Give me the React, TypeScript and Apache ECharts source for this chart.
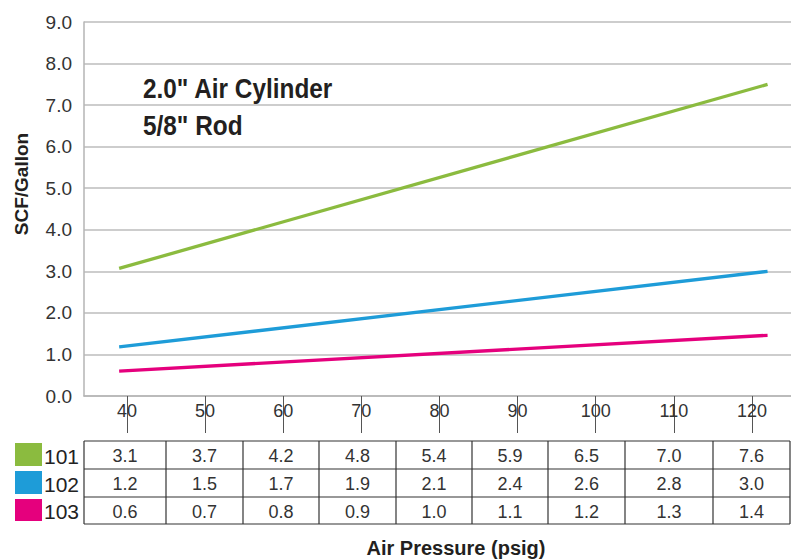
import React, { useEffect, useRef } from "react";
import * as echarts from "echarts";

// Table values (printed in the data table)
const pressures = [40, 50, 60, 70, 80, 90, 100, 110, 120];
const s101 = [3.1, 3.7, 4.2, 4.8, 5.4, 5.9, 6.5, 7.0, 7.6];
const s102 = [1.2, 1.5, 1.7, 1.9, 2.1, 2.4, 2.6, 2.8, 3.0];
const s103 = [0.6, 0.7, 0.8, 0.9, 1.0, 1.1, 1.2, 1.3, 1.4];

// Plotted straight lines (start and end points)
const lineX = [39, 122];
const line101 = [3.07, 7.5];
const line102 = [1.18, 3.0];
const line103 = [0.6, 1.46];

const seriesNames = ["101", "102", "103"];
const seriesColors = ["#8bbb3f", "#1e9cd8", "#e5007d"];

const FONT = "'Liberation Sans', Arial, sans-serif";

// layout constants for the data table
const tableCols = [84, 166, 243, 319, 396, 472, 548, 625, 713, 790];
const tableRows = [441, 469, 497, 524];

export default function App() {
  const ref = useRef<HTMLDivElement>(null);
  useEffect(() => {
    if (!ref.current) return;
    const chart = echarts.init(ref.current, null, { renderer: "svg" });
    const tableData = [s101, s102, s103];
    const lines = [line101, line102, line103];

    const g: any[] = [];
    const lineStyle = { stroke: "#333", lineWidth: 1.2 };
    tableRows.forEach((y) =>
      g.push({ type: "line", shape: { x1: tableCols[0], y1: y, x2: tableCols[tableCols.length - 1], y2: y }, style: lineStyle })
    );
    tableCols.forEach((x) =>
      g.push({ type: "line", shape: { x1: x, y1: tableRows[0], x2: x, y2: tableRows[tableRows.length - 1] }, style: lineStyle })
    );
    tableData.forEach((d, i) => {
      const top = tableRows[i];
      const h = tableRows[i + 1] - top;
      g.push({
        type: "rect",
        shape: { x: 15, y: top + 2, width: 27, height: h - 5 },
        style: { fill: seriesColors[i] },
      });
      g.push({
        type: "text",
        x: 44,
        y: top + h / 2 + 1,
        style: {
          text: seriesNames[i],
          fontFamily: FONT,
          fontSize: 21,
          fill: "#222",
          textAlign: "left",
          textVerticalAlign: "middle",
        },
      });
      d.forEach((v, j) => {
        g.push({
          type: "text",
          x: (tableCols[j] + tableCols[j + 1]) / 2,
          y: top + h / 2 + 1,
          style: {
            text: v.toFixed(1),
            fontFamily: FONT,
            fontSize: 18,
            fill: "#333",
            textAlign: "center",
            textVerticalAlign: "middle",
          },
        });
      });
    });
    const annot = (text: string, y: number) => ({
      type: "text",
      x: 143,
      y,
      scaleX: 0.87,
      style: {
        text,
        fontFamily: FONT,
        fontSize: 28,
        fontWeight: "bold",
        fill: "#231f20",
        textAlign: "left",
        textVerticalAlign: "middle",
      },
    });
    g.push(annot('2.0" Air Cylinder', 88));
    g.push(annot('5/8" Rod', 125));
    g.push({
      type: "text",
      x: 456,
      y: 548,
      style: {
        text: "Air Pressure (psig)",
        fontFamily: FONT,
        fontSize: 20,
        fontWeight: "bold",
        fill: "#231f20",
        textAlign: "center",
        textVerticalAlign: "middle",
      },
    });
    g.push({
      type: "text",
      x: 21,
      y: 184,
      rotation: Math.PI / 2,
      style: {
        text: "SCF/Gallon",
        fontFamily: FONT,
        fontSize: 19,
        fontWeight: "bold",
        fill: "#231f20",
        textAlign: "center",
        textVerticalAlign: "middle",
      },
    });

    const option: any = {
      animation: false,
      grid: { left: 84, right: 0, top: 22, bottom: 163, containLabel: false },
      xAxis: {
        type: "value",
        min: 34.5,
        max: 125,
        axisLine: { show: true, lineStyle: { color: "#b5b5b5", width: 1.5 } },
        axisTick: { show: true, customValues: pressures, length: 37, lineStyle: { color: "#555", width: 1 } },
        axisLabel: { customValues: pressures, fontFamily: FONT, fontSize: 18, color: "#333", margin: 6 },
        splitLine: { show: false },
      },
      yAxis: {
        type: "value",
        min: 0,
        max: 9,
        interval: 1,
        axisLine: { show: true, lineStyle: { color: "#b5b5b5", width: 1.5 } },
        axisTick: { show: false },
        axisLabel: {
          fontFamily: FONT,
          fontSize: 19,
          color: "#333",
          margin: 12,
          formatter: (v: number) => v.toFixed(1),
        },
        splitLine: { show: true, lineStyle: { color: "#bdbdbd", width: 1.5 } },
      },
      series: lines.map((d, i) => ({
        name: seriesNames[i],
        type: "line",
        data: d.map((v, j) => [lineX[j], v]),
        showSymbol: false,
        lineStyle: { color: seriesColors[i], width: 3.3 },
        itemStyle: { color: seriesColors[i] },
      })),
      graphic: { elements: g },
    };
    chart.setOption(option);
    return () => chart.dispose();
  }, []);
  return (
    <div
      ref={ref}
      style={{ position: "fixed", left: 0, top: 0, width: 791, height: 559, background: "#fff" }}
    />
  );
}
